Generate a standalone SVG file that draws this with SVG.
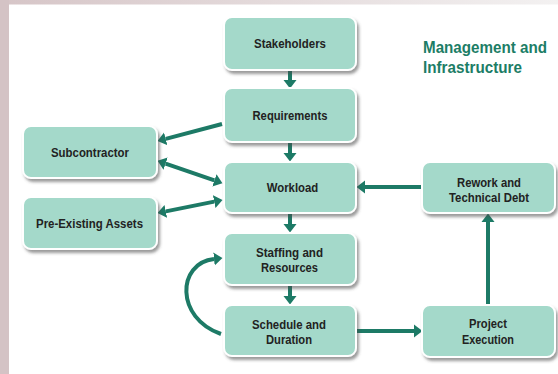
<svg xmlns="http://www.w3.org/2000/svg" width="558" height="374" viewBox="0 0 558 374">
<style>
.box{fill:#a4d9ca;stroke:#ffffff;stroke-width:2;filter:url(#sh)}
.lbl{font-family:"Liberation Sans",Arial,sans-serif;font-weight:bold;font-size:13.5px;fill:#222222;text-anchor:middle}
.ttl{font-family:"Liberation Sans",Arial,sans-serif;font-weight:bold;font-size:16.5px;fill:#1c7d66}
.ln{fill:none;stroke:#1d7a66;stroke-width:4}
</style>
<defs>
<linearGradient id="tg" x1="0" y1="0" x2="1" y2="0">
<stop offset="0" stop-color="#d6c5c7"/>
<stop offset="1" stop-color="#f3f1f1"/>
</linearGradient>
<filter id="sh" x="-20%" y="-20%" width="150%" height="160%">
<feDropShadow dx="2" dy="3" stdDeviation="1.8" flood-color="#4a4a4a" flood-opacity="0.55"/>
</filter>
<marker id="ah" markerUnits="userSpaceOnUse" markerWidth="9" markerHeight="14" refX="0" refY="6.5" orient="auto-start-reverse" viewBox="0 0 9 13">
<path d="M0,0 L8.5,6.5 L0,13 z" fill="#1d7a66"/>
</marker>
</defs>
<rect x="0" y="0" width="558" height="374" fill="#ffffff"/>
<rect x="0" y="0" width="558" height="4.5" fill="url(#tg)"/>
<rect x="0" y="0" width="9" height="374" fill="#d4c3c5"/>
<text class="ttl" x="423" y="53" textLength="124" lengthAdjust="spacingAndGlyphs">Management and</text>
<text class="ttl" x="423" y="73" textLength="99" lengthAdjust="spacingAndGlyphs">Infrastructure</text>
<g id="connectors">
<line class="ln" x1="290" y1="70" x2="290" y2="80" marker-end="url(#ah)"/>
<line class="ln" x1="290" y1="142" x2="290" y2="153" marker-end="url(#ah)"/>
<line class="ln" x1="290" y1="213" x2="290" y2="224" marker-end="url(#ah)"/>
<line class="ln" x1="290" y1="285" x2="290" y2="296" marker-end="url(#ah)"/>
<line class="ln" x1="222" y1="124" x2="165.7" y2="138.9" marker-end="url(#ah)"/>
<line class="ln" x1="165.6" y1="163.6" x2="214.4" y2="180.4" marker-start="url(#ah)" marker-end="url(#ah)"/>
<line class="ln" x1="165.8" y1="211.4" x2="214.2" y2="201.6" marker-start="url(#ah)" marker-end="url(#ah)"/>
<line class="ln" x1="421" y1="187" x2="365" y2="187" marker-end="url(#ah)"/>
<line class="ln" x1="488" y1="304" x2="488" y2="222" marker-end="url(#ah)"/>
<line class="ln" x1="357" y1="331" x2="414" y2="331" marker-end="url(#ah)"/>
<path class="ln" d="M221,334 C175,318 177,263 214,259" marker-end="url(#ah)"/>
</g>
<g id="stakeholders"><rect class="box" x="224" y="17" width="132" height="53" rx="8"/><text class="lbl" x="290" y="48" textLength="72" lengthAdjust="spacingAndGlyphs">Stakeholders</text></g>
<g id="requirements"><rect class="box" x="224" y="88" width="132" height="54" rx="8"/><text class="lbl" x="290" y="120" textLength="75" lengthAdjust="spacingAndGlyphs">Requirements</text></g>
<g id="workload"><rect class="box" x="224" y="162" width="132" height="51" rx="8"/><text class="lbl" x="292.5" y="192.3" textLength="51.5" lengthAdjust="spacingAndGlyphs">Workload</text></g>
<g id="staffing"><rect class="box" x="224" y="233" width="132" height="52" rx="8"/><text class="lbl" x="289.5" y="256.7" textLength="67" lengthAdjust="spacingAndGlyphs">Staffing and</text><text class="lbl" x="289.5" y="272" textLength="57" lengthAdjust="spacingAndGlyphs">Resources</text></g>
<g id="schedule"><rect class="box" x="224" y="305" width="132" height="51" rx="8"/><text class="lbl" x="289" y="328.7" textLength="74" lengthAdjust="spacingAndGlyphs">Schedule and</text><text class="lbl" x="289" y="344" textLength="46" lengthAdjust="spacingAndGlyphs">Duration</text></g>
<g id="subcontractor"><rect class="box" x="23" y="126" width="134" height="52" rx="8"/><text class="lbl" x="90" y="156.5" textLength="78" lengthAdjust="spacingAndGlyphs">Subcontractor</text></g>
<g id="pre-existing-assets"><rect class="box" x="23" y="197" width="134" height="52" rx="8"/><text class="lbl" x="89.5" y="228" textLength="107" lengthAdjust="spacingAndGlyphs">Pre-Existing Assets</text></g>
<g id="rework"><rect class="box" x="422" y="162" width="133" height="51" rx="8"/><text class="lbl" x="489" y="187" textLength="64" lengthAdjust="spacingAndGlyphs">Rework and</text><text class="lbl" x="489" y="202" textLength="80" lengthAdjust="spacingAndGlyphs">Technical Debt</text></g>
<g id="project-execution"><rect class="box" x="422" y="305" width="133" height="52" rx="8"/><text class="lbl" x="488" y="328" textLength="38" lengthAdjust="spacingAndGlyphs">Project</text><text class="lbl" x="488" y="344" textLength="52" lengthAdjust="spacingAndGlyphs">Execution</text></g>
</svg>
